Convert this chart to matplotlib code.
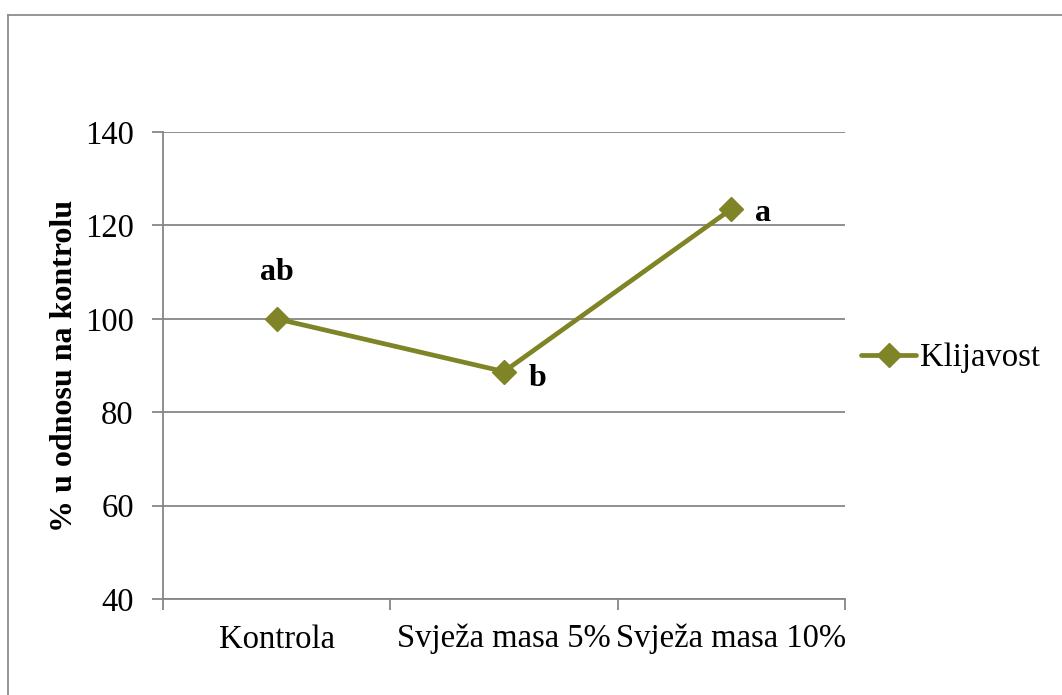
import matplotlib
matplotlib.use("Agg")
import matplotlib.pyplot as plt
from matplotlib.lines import Line2D

categories = ["Kontrola", "Svježa masa 5%", "Svježa masa 10%"]
values = [100.0, 88.7, 123.5]
letters = ["ab", "b", "a"]
series_name = "Klijavost"
yticks = [40, 60, 80, 100, 120, 140]

plt.rcParams['font.family'] = ['Liberation Serif', 'DejaVu Serif']

W, H = 1062, 695
fig = plt.figure(figsize=(W / 100, H / 100), dpi=100)
ax = fig.add_axes([163 / W, 1 - 599 / H, (845 - 163) / W, (599 - 132) / H])

color = '#7f8427'
grid_c = '#868686'
x = list(range(len(categories)))
ax.plot(x, values, color=color, lw=3.4, marker='D', markersize=12,
        label=series_name, solid_capstyle='round', zorder=3)

ax.set_xlim(-0.5, len(categories) - 0.5)
ax.set_ylim(40, 140)
ax.set_yticks(yticks)
ax.set_xticks(x)
ax.set_xticklabels(categories)
ax.set_xticks([i - 0.5 for i in range(len(categories) + 1)], minor=True)
ax.tick_params(axis='x', which='major', length=0, pad=18, labelsize=23.5)
ax.tick_params(axis='x', which='minor', length=8, width=1.3, color=grid_c, direction='out')
ax.tick_params(axis='y', length=8, width=1.3, color=grid_c, labelsize=23.5, pad=13)
ax.yaxis.grid(True, color=grid_c, lw=1.3)
ax.set_axisbelow(True)
for s in ['top', 'right']:
    ax.spines[s].set_visible(False)
for s in ['left', 'bottom']:
    ax.spines[s].set_color(grid_c)
    ax.spines[s].set_linewidth(1.3)

ax.set_ylabel("% u odnosu na kontrolu", fontsize=23, fontweight='bold', labelpad=4)

offsets = [(0, 33), (24, -5), (23, -3)]
for xi, v, lab, off in zip(x, values, letters, offsets):
    ax.annotate(lab, (xi, v), xytext=off, textcoords='offset points',
                ha='center', va='center', fontsize=23, fontweight='bold')

leg = ax.legend(loc='center left', bbox_to_anchor=(861 / W, 1 - 358 / H),
                bbox_transform=fig.transFigure, frameon=False, fontsize=23.5,
                handlelength=1.7, handletextpad=0.12, borderaxespad=0, borderpad=0)

# outer chart border
fig.add_artist(Line2D([8 / W, 8 / W], [0, 1 - 15 / H], transform=fig.transFigure,
                      color='#8c8c8c', lw=1.3))
fig.add_artist(Line2D([8 / W, 1], [1 - 15 / H, 1 - 15 / H], transform=fig.transFigure,
                      color='#8c8c8c', lw=1.3))

fig.savefig("out.png", dpi=100)
